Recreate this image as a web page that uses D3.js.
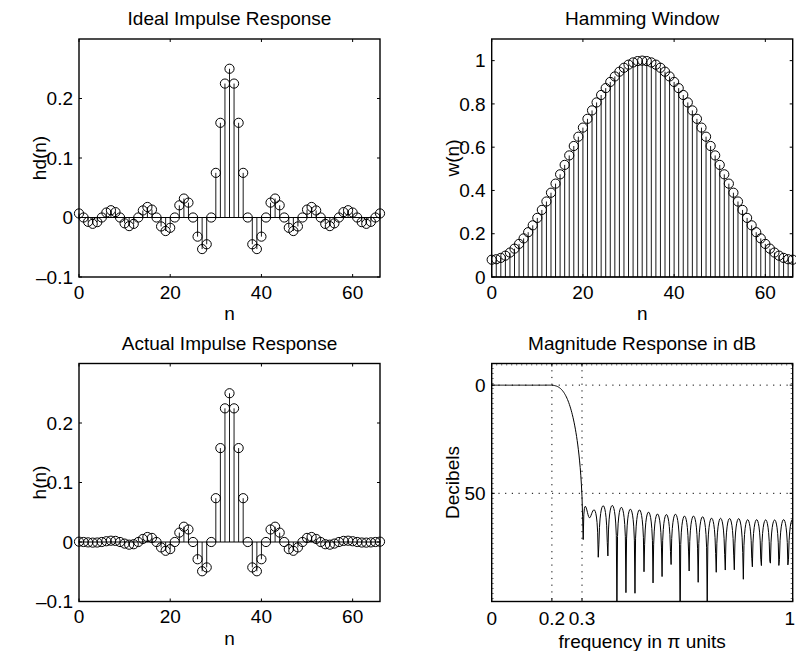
<!DOCTYPE html>
<html>
<head>
<meta charset="utf-8">
<script src="https://cdn.jsdelivr.net/npm/d3@7"></script>
<style>
  body { margin: 0; background: #fff; }
  text { font-family: "Liberation Sans", Arial, Helvetica, sans-serif; font-size: 19px; fill: #000; }
</style>
</head>
<body>
<svg id="fig" width="796" height="651"></svg>
<script>
// Sample index n = 0 .. 66 (M = 67 taps)
const nIdx = [0,1,2,3,4,5,6,7,8,9,10,11,12,13,14,15,16,17,18,19,20,21,22,23,24,25,26,27,28,29,30,31,32,33,
  34,35,36,37,38,39,40,41,42,43,44,45,46,47,48,49,50,51,52,53,54,55,56,57,58,59,60,61,62,63,64,65,66];

// Ideal low-pass impulse response hd(n)
const hdVals = [0.00682,0,-0.00726,-0.01061,-0.00776,0,0.00834,0.01224,0.00900,0,-0.00979,-0.01447,-0.01072,0,
  0.01185,0.01768,0.01324,0,-0.01501,-0.02274,-0.01731,0,0.02046,0.03183,0.02501,0,-0.03215,-0.05305,-0.04502,0,
  0.07503,0.15915,0.22508,0.25,0.22508,0.15915,0.07503,0,-0.04502,-0.05305,-0.03215,0,0.02501,0.03183,0.02046,0,
  -0.01731,-0.02274,-0.01501,0,0.01324,0.01768,0.01185,0,-0.01072,-0.01447,-0.00979,0,0.00900,0.01224,0.00834,0,
  -0.00776,-0.01061,-0.00726,0,0.00682];

// Hamming window w(n)
const wVals = [0.08,0.08208,0.08831,0.09863,0.11295,0.13114,0.15302,0.17842,0.20708,0.23876,0.27318,0.31,0.34891,
  0.38955,0.43155,0.47454,0.51811,0.56189,0.60546,0.64845,0.69045,0.73109,0.77,0.80682,0.84124,0.87292,0.90158,
  0.92698,0.94886,0.96705,0.98137,0.99169,0.99792,1.0,0.99792,0.99169,0.98137,0.96705,0.94886,0.92698,0.90158,
  0.87292,0.84124,0.80682,0.77,0.73109,0.69045,0.64845,0.60546,0.56189,0.51811,0.47454,0.43155,0.38955,0.34891,
  0.31,0.27318,0.23876,0.20708,0.17842,0.15302,0.13114,0.11295,0.09863,0.08831,0.08208,0.08];

// Windowed (actual) impulse response h(n)
const hVals = [0.00055,0,-0.00064,-0.00105,-0.00088,0,0.00128,0.00218,0.00186,0,-0.00267,-0.00449,-0.00374,0,
  0.00511,0.00839,0.00686,0,-0.00909,-0.01475,-0.01195,0,0.01575,0.02568,0.02104,0,-0.02899,-0.04918,-0.04272,0,
  0.07363,0.15783,0.22461,0.25,0.22461,0.15783,0.07363,0,-0.04272,-0.04918,-0.02899,0,0.02104,0.02568,0.01575,0,
  -0.01195,-0.01475,-0.00909,0,0.00686,0.00839,0.00511,0,-0.00374,-0.00449,-0.00267,0,0.00186,0.00218,0.00128,0,
  -0.00088,-0.00105,-0.00064,0,0.00055];

// Tick values and labels
const nTicks = [0, 20, 40, 60];
const impTicks = [-0.1, 0, 0.1, 0.2];
const impTickLabels = ["\u20130.1", "0", "0.1", "0.2"];
const winTicks = [0, 0.2, 0.4, 0.6, 0.8, 1];
const winTickLabels = ["0", "0.2", "0.4", "0.6", "0.8", "1"];
const freqTicks = [0, 0.2, 0.3, 1];
const freqTickLabels = ["0", "0.2", "0.3", "1"];
const dbTicks = [-50, 0];
const dbTickLabels = ["50", "0"];

// Magnitude response of h(n), 501 points on [0, pi], in dB relative to the peak
const nFreq = 501;
const freqGrid = d3.range(nFreq).map(k => k / (nFreq - 1));
const mag = freqGrid.map(f => {
  const om = Math.PI * f;
  let re = 0, im = 0;
  hVals.forEach((v, i) => { re += v * Math.cos(om * nIdx[i]); im -= v * Math.sin(om * nIdx[i]); });
  return Math.hypot(re, im);
});
const magMax = d3.max(mag);
const dbVals = mag.map(m => 20 * Math.log10((m + 2.2e-16) / magMax));

const svg = d3.select("#fig");
const W = 796;

function makeAxes(box, xDom, yDom, o) {
  const g = svg.append("g");
  const x = d3.scaleLinear().domain(xDom).range([box.x0, box.x1]);
  const y = d3.scaleLinear().domain(yDom).range([box.y1, box.y0]);
  const tl = 3;
  // grid
  if (o.grid) {
    const gg = g.append("g").attr("stroke", "#000").attr("stroke-width", 1).attr("stroke-dasharray", "1.2,5.5");
    o.xTicks.filter(t => t > xDom[0] && t < xDom[1]).forEach(t =>
      gg.append("line").attr("x1", x(t)).attr("x2", x(t)).attr("y1", box.y0).attr("y2", box.y1));
    o.yTicks.filter(t => t > yDom[0] && t < yDom[1]).forEach(t =>
      gg.append("line").attr("x1", box.x0).attr("x2", box.x1).attr("y1", y(t)).attr("y2", y(t)));
  }
  const ax = g.append("g").attr("stroke", "#000").attr("stroke-width", 1);
  o.xTicks.forEach(t => {
    ax.append("line").attr("x1", x(t)).attr("x2", x(t)).attr("y1", box.y1).attr("y2", box.y1 - tl);
    ax.append("line").attr("x1", x(t)).attr("x2", x(t)).attr("y1", box.y0).attr("y2", box.y0 + tl);
  });
  o.yTicks.forEach(t => {
    ax.append("line").attr("x1", box.x0).attr("x2", box.x0 + tl).attr("y1", y(t)).attr("y2", y(t));
    ax.append("line").attr("x1", box.x1).attr("x2", box.x1 - tl).attr("y1", y(t)).attr("y2", y(t));
  });
  // tick labels (kept inside the page at the right edge)
  o.xTicks.forEach((t, i) => {
    const tx = g.append("text").attr("x", x(t)).attr("y", box.y1 + (o.xLabOff || 15))
      .attr("dy", "0.35em").attr("text-anchor", "middle").text(o.xTickLabels[i]);
    const bb = tx.node().getBBox();
    if (bb.x + bb.width > W - 1) tx.attr("x", W - 1).attr("text-anchor", "end");
  });
  o.yTicks.forEach((t, i) => g.append("text").attr("x", box.x0 - 6).attr("y", y(t))
    .attr("dy", "0.35em").attr("text-anchor", "end").text(o.yTickLabels[i]));
  // title and axis labels
  const cx = (box.x0 + box.x1) / 2, cy = (box.y0 + box.y1) / 2;
  g.append("text").attr("x", cx).attr("y", box.y0 - 14).attr("text-anchor", "middle").text(o.title);
  g.append("text").attr("x", cx).attr("y", box.y1 + (o.xlabOff || 43)).attr("text-anchor", "middle").text(o.xlabel);
  g.append("text").attr("transform", `translate(${box.x0 - 33},${cy}) rotate(-90)`)
    .attr("text-anchor", "middle").text(o.ylabel);
  return { g, x, y };
}

function frame(g, box) {
  g.append("rect").attr("x", box.x0).attr("y", box.y0).attr("width", box.x1 - box.x0).attr("height", box.y1 - box.y0)
    .attr("fill", "none").attr("stroke", "#000").attr("stroke-width", 1.4);
}

function stems(ax, vals, withBaseline) {
  const { g, x, y } = ax;
  const sg = g.append("g");
  if (withBaseline) {
    sg.append("line").attr("x1", x(nIdx[0])).attr("x2", x(nIdx[nIdx.length - 1]))
      .attr("y1", y(0)).attr("y2", y(0)).attr("stroke", "#000").attr("stroke-width", 1);
  }
  sg.selectAll("line.stem").data(vals).join("line").attr("class", "stem")
    .attr("x1", (d, i) => x(nIdx[i])).attr("x2", (d, i) => x(nIdx[i]))
    .attr("y1", y(0)).attr("y2", d => y(d)).attr("stroke", "#000").attr("stroke-width", 0.9);
  sg.selectAll("circle").data(vals).join("circle")
    .attr("cx", (d, i) => x(nIdx[i])).attr("cy", d => y(d)).attr("r", 4.6)
    .attr("fill", "none").attr("stroke", "#000").attr("stroke-width", 1);
}

const B = {
  tl: { x0: 79, x1: 380, y0: 39, y1: 277 },
  tr: { x0: 491.7, x1: 792.7, y0: 39, y1: 277 },
  bl: { x0: 79, x1: 380, y0: 363.5, y1: 601.5 },
  br: { x0: 491.7, x1: 792.7, y0: 363.5, y1: 601.5 }
};

// Ideal impulse response
const a1 = makeAxes(B.tl, [0, 66], [-0.1, 0.3], {
  xTicks: nTicks, xTickLabels: nTicks.map(String), yTicks: impTicks, yTickLabels: impTickLabels,
  title: "Ideal Impulse Response", xlabel: "n", ylabel: "hd(n)" });
stems(a1, hdVals, true);
frame(a1.g, B.tl);

// Hamming window
const a2 = makeAxes(B.tr, [0, 66], [0, 1.1], {
  xTicks: nTicks, xTickLabels: nTicks.map(String), yTicks: winTicks, yTickLabels: winTickLabels,
  title: "Hamming Window", xlabel: "n", ylabel: "w(n)" });
stems(a2, wVals, true);
frame(a2.g, B.tr);

// Actual impulse response
const a3 = makeAxes(B.bl, [0, 66], [-0.1, 0.3], {
  xTicks: nTicks, xTickLabels: nTicks.map(String), yTicks: impTicks, yTickLabels: impTickLabels,
  title: "Actual Impulse Response", xlabel: "n", ylabel: "h(n)" });
stems(a3, hVals, true);
frame(a3.g, B.bl);

// Magnitude response in dB
const a4 = makeAxes(B.br, [0, 1], [-100, 10], {
  xTicks: freqTicks, xTickLabels: freqTickLabels, yTicks: dbTicks, yTickLabels: dbTickLabels,
  grid: true, xLabOff: 17, xlabOff: 46,
  title: "Magnitude Response in dB", xlabel: "frequency in \u03c0 units", ylabel: "Decibels" });
svg.append("defs").append("clipPath").attr("id", "clipMag").append("rect")
  .attr("x", B.br.x0).attr("y", B.br.y0).attr("width", B.br.x1 - B.br.x0).attr("height", B.br.y1 - B.br.y0);
a4.g.append("path").datum(dbVals.map((d, i) => [freqGrid[i], d]))
  .attr("clip-path", "url(#clipMag)")
  .attr("fill", "none").attr("stroke", "#000").attr("stroke-width", 1)
  .attr("d", d3.line().x(d => a4.x(d[0])).y(d => a4.y(d[1])));
// fine edge marks along the top, left and right sides of the dB frame
const fm = a4.g.append("g").attr("stroke", "#000").attr("stroke-width", 1).attr("opacity", 0.55);
d3.range(B.br.x0 + 5, B.br.x1, 5).forEach(px =>
  fm.append("line").attr("x1", px).attr("x2", px).attr("y1", B.br.y0).attr("y2", B.br.y0 + 2));
d3.range(B.br.y0 + 5, B.br.y1, 5).forEach(py => {
  fm.append("line").attr("x1", B.br.x0).attr("x2", B.br.x0 + 2).attr("y1", py).attr("y2", py);
  fm.append("line").attr("x1", B.br.x1).attr("x2", B.br.x1 - 2).attr("y1", py).attr("y2", py);
});
frame(a4.g, B.br);
</script>
</body>
</html>
